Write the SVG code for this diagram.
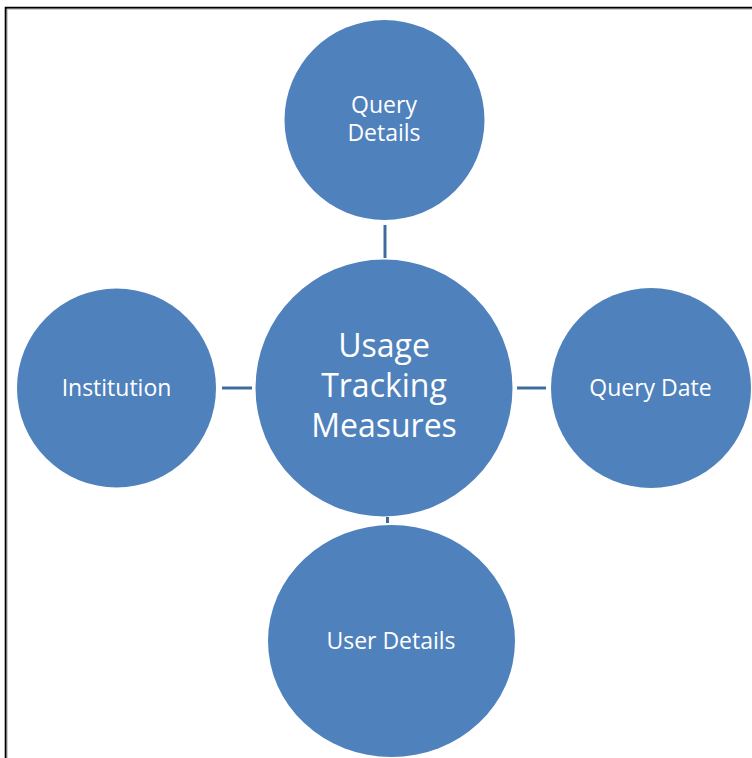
<svg xmlns="http://www.w3.org/2000/svg" width="752" height="758" viewBox="0 0 752 758">
<style>
.node{fill:#4F81BD;}
.lbl{fill:#FFFFFF;font-family:"Open Sans","Noto Sans",sans-serif;font-size:23px;text-anchor:middle;}
.big{font-size:32px;}
.conn{stroke:#3E6C9E;stroke-width:3;fill:none;}
</style>
<rect width="752" height="758" fill="#FFFFFF"/>
<path d="M5.7,758 V7.7 H752" fill="none" stroke="#000000" stroke-width="2"/>
<path d="M7.2,758 V9.2 H752" fill="none" stroke="#BBBBBB" stroke-width="1"/>
<g id="connectors">
<line class="conn" x1="385" y1="225" x2="385" y2="258"/>
<line class="conn" x1="222" y1="388" x2="252" y2="388"/>
<line class="conn" x1="517" y1="388" x2="546" y2="388"/>
<line class="conn" x1="387.5" y1="517" x2="387.5" y2="523"/>
</g>
<g id="query-details">
<circle class="node" cx="384.5" cy="120" r="100"/>
<text class="lbl" x="384" y="113">Query</text>
<text class="lbl" x="384" y="141">Details</text>
</g>
<g id="usage-tracking-measures">
<circle class="node" cx="384" cy="388" r="128.5"/>
<text class="lbl big" x="384" y="357">Usage</text>
<text class="lbl big" x="384" y="397">Tracking</text>
<text class="lbl big" x="384" y="437">Measures</text>
</g>
<g id="institution">
<circle class="node" cx="116.5" cy="388" r="99.5"/>
<text class="lbl" x="116.5" y="396">Institution</text>
</g>
<g id="query-date">
<circle class="node" cx="651" cy="388" r="100"/>
<text class="lbl" x="650.5" y="396">Query Date</text>
</g>
<g id="user-details">
<ellipse class="node" cx="391.5" cy="641" rx="123.5" ry="116"/>
<text class="lbl" x="391" y="649">User Details</text>
</g>
</svg>
